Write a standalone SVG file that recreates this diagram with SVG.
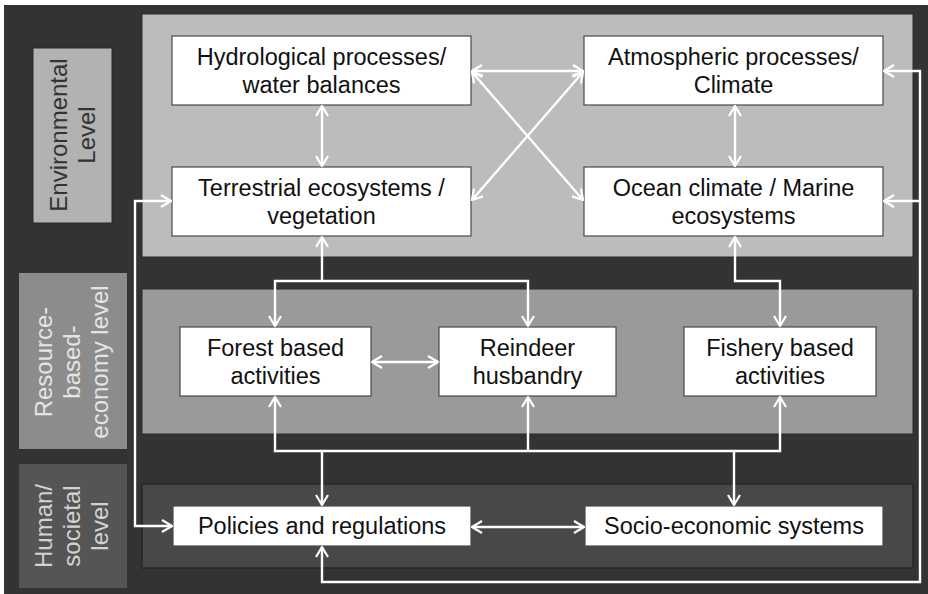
<svg xmlns="http://www.w3.org/2000/svg" width="928" height="594" viewBox="0 0 928 594">
<style>
.box{fill:#ffffff;stroke:#4a4a4a;stroke-width:1.2}
.t{font-family:"Liberation Sans",Arial,sans-serif;font-size:23.5px;fill:#111;text-anchor:middle}
.lab{font-family:"Liberation Sans",Arial,sans-serif;font-size:24px;text-anchor:middle}
.c{fill:none;stroke:#ffffff;stroke-width:2.4;marker-start:url(#ah);marker-end:url(#ah)}
.e{fill:none;stroke:#ffffff;stroke-width:2.4;marker-end:url(#ah)}
</style>
<defs>
<marker id="ah" viewBox="0 0 12 14" refX="11" refY="7" markerWidth="12" markerHeight="14" markerUnits="userSpaceOnUse" orient="auto-start-reverse">
<path d="M1,1 L11,7 L1,13" fill="none" stroke="#ffffff" stroke-width="2.2"/>
</marker>
</defs>
<rect x="0" y="0" width="928" height="594" fill="#ffffff"/>
<rect x="4" y="5" width="924" height="589" fill="#333333"/>
<g id="panels">
<rect id="env-panel" x="142" y="14" width="771" height="243" fill="#bcbcbc" stroke="#2a2a2a" stroke-width="1"/>
<rect id="res-panel" x="142" y="289" width="771" height="145" fill="#9a9a9a" stroke="#2a2a2a" stroke-width="1"/>
<rect id="hum-panel" x="142" y="484" width="771" height="84" fill="#484848" stroke="#262626" stroke-width="1.5"/>
</g>
<g id="env-label">
<rect x="33" y="48" width="79" height="175" fill="#b2b2b2" stroke="#2a2a2a" stroke-width="1"/>
<g transform="translate(72.5,135) rotate(-90)">
<text class="lab" x="0" y="-6" fill="#333333">Environmental</text>
<text class="lab" x="0" y="22" fill="#333333">Level</text>
</g>
</g>
<g id="res-label">
<rect x="19" y="273" width="108" height="176" fill="#8c8c8c"/>
<g transform="translate(73,362) rotate(-90)">
<text class="lab" x="0" y="-21" fill="#e4e4e4">Resource-</text>
<text class="lab" x="0" y="7" fill="#e4e4e4">based-</text>
<text class="lab" x="0" y="35" fill="#e4e4e4">economy level</text>
</g>
</g>
<g id="hum-label">
<rect x="19" y="464" width="108" height="124" fill="#555555"/>
<g transform="translate(73,526) rotate(-90)">
<text class="lab" x="0" y="-21" fill="#d2d2d2">Human/</text>
<text class="lab" x="0" y="7" fill="#d2d2d2">societal</text>
<text class="lab" x="0" y="35" fill="#d2d2d2">level</text>
</g>
</g>
<g id="hydro">
<rect class="box" x="172" y="36" width="299" height="69"/>
<text class="t" x="321.5" y="65">Hydrological processes/</text>
<text class="t" x="321.5" y="93">water balances</text>
</g>
<g id="terrestrial">
<rect class="box" x="172" y="167" width="299" height="69"/>
<text class="t" x="321.5" y="196">Terrestrial ecosystems /</text>
<text class="t" x="321.5" y="224">vegetation</text>
</g>
<g id="atmos">
<rect class="box" x="584" y="36" width="299" height="69"/>
<text class="t" x="733.5" y="65">Atmospheric processes/</text>
<text class="t" x="733.5" y="93">Climate</text>
</g>
<g id="ocean">
<rect class="box" x="584" y="167" width="299" height="69"/>
<text class="t" x="733.5" y="196">Ocean climate / Marine</text>
<text class="t" x="733.5" y="224">ecosystems</text>
</g>
<g id="forest">
<rect class="box" x="180" y="327" width="191" height="69"/>
<text class="t" x="275.5" y="356">Forest based</text>
<text class="t" x="275.5" y="384">activities</text>
</g>
<g id="reindeer">
<rect class="box" x="439" y="327" width="177" height="69"/>
<text class="t" x="527.5" y="356">Reindeer</text>
<text class="t" x="527.5" y="384">husbandry</text>
</g>
<g id="fishery">
<rect class="box" x="684" y="327" width="192" height="69"/>
<text class="t" x="780" y="356">Fishery based</text>
<text class="t" x="780" y="384">activities</text>
</g>
<g id="policies">
<rect class="box" x="173" y="506" width="298" height="40"/>
<text class="t" x="322" y="534">Policies and regulations</text>
</g>
<g id="socio">
<rect class="box" x="585" y="506" width="298" height="40"/>
<text class="t" x="734" y="534">Socio-economic systems</text>
</g>
<g id="connectors">
<path class="c" d="M472,71 H583"/>
<path class="c" d="M472,72 L583,200"/>
<path class="c" d="M472,200 L583,72"/>
<path class="c" d="M322,106 V166"/>
<path class="c" d="M735,106 V166"/>
<path class="c" d="M275,326 V281 H528 V326"/>
<path class="e" d="M322,281 V237"/>
<path class="c" d="M735,237 V281 H780 V326"/>
<path class="c" d="M372,362 H438"/>
<path class="c" d="M275,397 V451 H780 V397"/>
<path class="e" d="M528,451 V397"/>
<path class="e" d="M322,451 V505"/>
<path class="e" d="M734,451 V505"/>
<path class="c" d="M472,527 H584"/>
<path class="c" d="M171,201 H135 V526 H172"/>
<path class="c" d="M884,71 H920 V582 H322 V547"/>
<path class="e" d="M920,201 H884"/>
</g>
</svg>
